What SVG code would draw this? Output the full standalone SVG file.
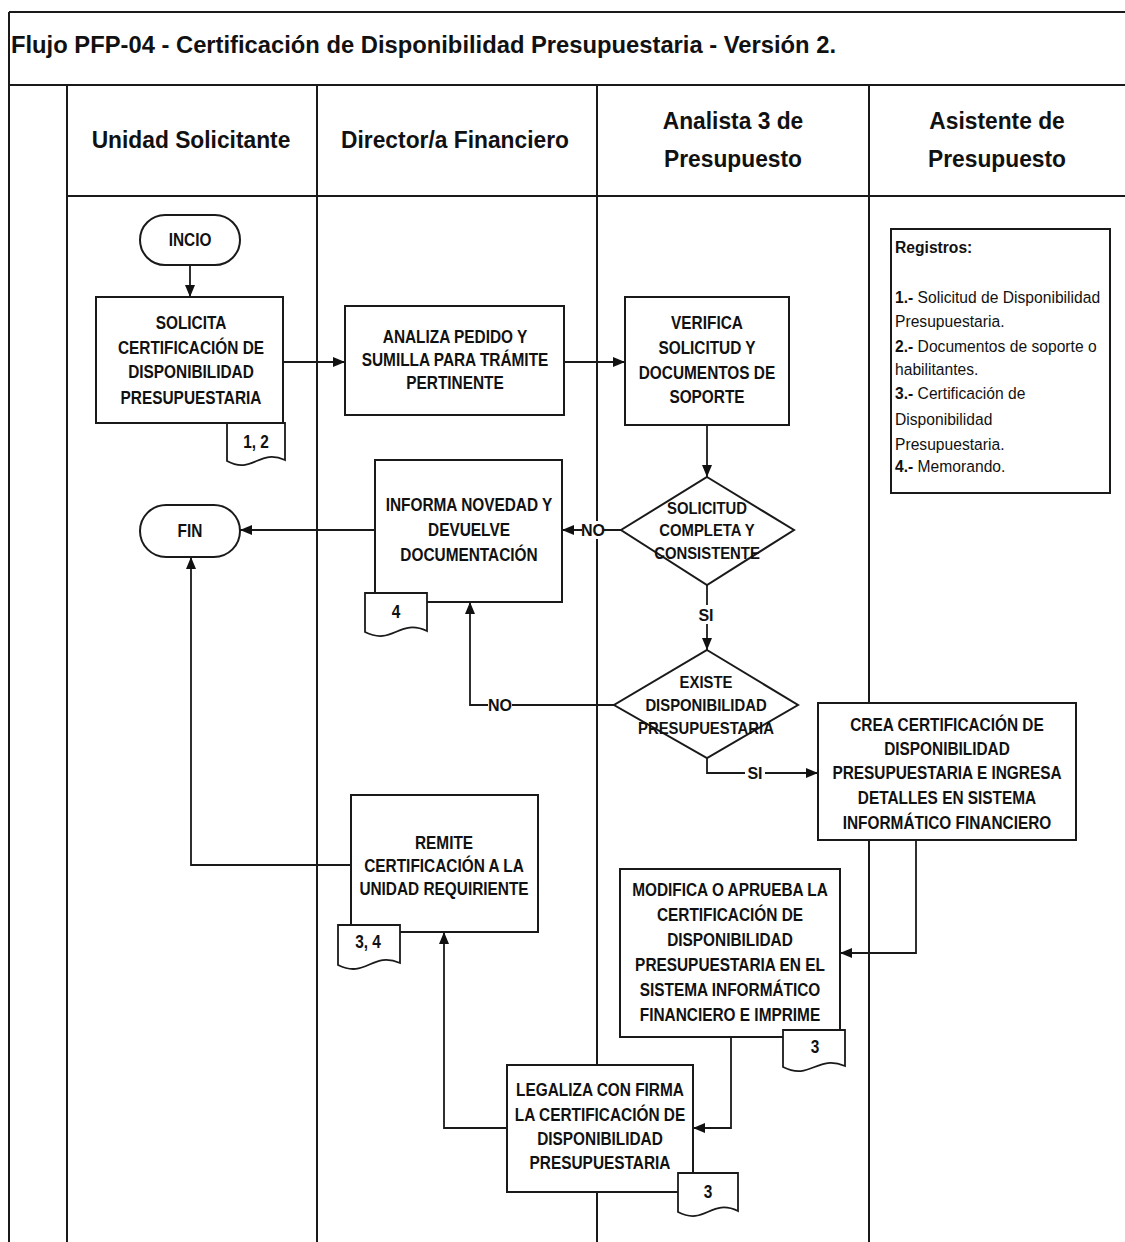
<svg xmlns="http://www.w3.org/2000/svg" width="1125" height="1242" viewBox="0 0 1125 1242">
<style>
.frame{stroke:#1a1a1a;stroke-width:2;fill:none}
.box{fill:#fff;stroke:#1a1a1a;stroke-width:2}
.doc{fill:#fff;stroke:#1a1a1a;stroke-width:1.8}
.con{fill:none;stroke:#1a1a1a;stroke-width:1.8}
.t{font-family:"Liberation Sans",Arial,sans-serif;font-weight:bold;font-size:17.5px;fill:#111;text-anchor:middle}
.d{font-family:"Liberation Sans",Arial,sans-serif;font-weight:bold;font-size:16.5px;fill:#111;text-anchor:middle}
.h{font-family:"Liberation Sans",Arial,sans-serif;font-weight:bold;font-size:24px;fill:#111;text-anchor:middle}
.r{font-family:"Liberation Sans",Arial,sans-serif;font-size:17px;fill:#111}
.lbl{font-family:"Liberation Sans",Arial,sans-serif;font-weight:bold;font-size:16px;fill:#111;text-anchor:middle}
</style>
<defs>
<marker id="arr" viewBox="0 0 12 10" refX="12" refY="5" markerWidth="12" markerHeight="10" markerUnits="userSpaceOnUse" orient="auto">
<path d="M0,0 L12,5 L0,10 Z" fill="#111"/>
</marker>
</defs>
<rect width="1125" height="1242" fill="#fff"/>

<g id="frame">
<line class="frame" x1="9" y1="12" x2="1125" y2="12"/>
<line class="frame" x1="9" y1="85" x2="1125" y2="85"/>
<line class="frame" x1="67" y1="196" x2="1125" y2="196"/>
<line class="frame" x1="9" y1="12" x2="9" y2="1242"/>
<line class="frame" x1="67" y1="85" x2="67" y2="1242"/>
<line class="frame" x1="317" y1="85" x2="317" y2="1242"/>
<line class="frame" x1="597" y1="85" x2="597" y2="1242"/>
<line class="frame" x1="869" y1="85" x2="869" y2="1242"/>
<text x="11" y="53" textLength="825" lengthAdjust="spacingAndGlyphs" font-family="Liberation Sans, Arial, sans-serif" font-weight="bold" font-size="23" fill="#111">Flujo PFP-04 - Certificación de Disponibilidad Presupuestaria - Versión 2.</text>
<text class="h" transform="translate(191,0) scale(0.95,1)" x="0" y="148">Unidad Solicitante</text>
<text class="h" transform="translate(455,0) scale(0.95,1)" x="0" y="148">Director/a Financiero</text>
<text class="h" transform="translate(733,0) scale(0.95,1)"><tspan x="0" y="129">Analista 3 de</tspan><tspan x="0" y="167">Presupuesto</tspan></text>
<text class="h" transform="translate(997,0) scale(0.95,1)"><tspan x="0" y="129">Asistente de</tspan><tspan x="0" y="167">Presupuesto</tspan></text>
</g>

<g id="connectors">
<path class="con" d="M190,265 V297" marker-end="url(#arr)"/>
<path class="con" d="M283,362 H345" marker-end="url(#arr)"/>
<path class="con" d="M564,362 H625" marker-end="url(#arr)"/>
<path class="con" d="M707,425 V477" marker-end="url(#arr)"/>
<path class="con" d="M621,530 H562" marker-end="url(#arr)"/>
<path class="con" d="M375,530 H240" marker-end="url(#arr)"/>
<path class="con" d="M707,585 V650" marker-end="url(#arr)"/>
<path class="con" d="M614,705 H470 V602" marker-end="url(#arr)"/>
<path class="con" d="M707,758 V773 H818" marker-end="url(#arr)"/>
<path class="con" d="M916,840 V953 H840" marker-end="url(#arr)"/>
<path class="con" d="M731,1037 V1128 H693" marker-end="url(#arr)"/>
<path class="con" d="M507,1128 H444 V932" marker-end="url(#arr)"/>
<path class="con" d="M351,865 H191 V557" marker-end="url(#arr)"/>
<rect x="582" y="521" width="22" height="18" fill="#fff"/>
<text class="lbl" x="593" y="536">NO</text>
<rect x="696" y="605" width="20" height="19" fill="#fff"/>
<text class="lbl" x="706" y="621">SI</text>
<rect x="488" y="696" width="24" height="18" fill="#fff"/>
<text class="lbl" x="500" y="711">NO</text>
<rect x="745" y="764" width="20" height="18" fill="#fff"/>
<text class="lbl" x="755" y="779">SI</text>
</g>

<g id="n-inicio">
<rect class="box" x="140" y="215" width="100" height="50" rx="25"/>
<text class="t" transform="translate(190,0) scale(0.88,1)" x="0" y="246">INCIO</text>
</g>

<g id="n-solicita">
<rect class="box" x="96" y="297" width="187" height="126"/>
<text class="t" transform="translate(191,0) scale(0.88,1)"><tspan x="0" y="329">SOLICITA</tspan><tspan x="0" y="354">CERTIFICACIÓN DE</tspan><tspan x="0" y="378">DISPONIBILIDAD</tspan><tspan x="0" y="404">PRESUPUESTARIA</tspan></text>
</g>
<g id="d-12">
<path class="doc" d="M227,423 H285 V460 C259,448 253,475 227,461 Z"/>
<text class="t" transform="translate(256,0) scale(0.88,1)" x="0" y="448">1, 2</text>
</g>

<g id="n-analiza">
<rect class="box" x="345" y="306" width="219" height="109"/>
<text class="t" transform="translate(455,0) scale(0.88,1)"><tspan x="0" y="343">ANALIZA PEDIDO Y</tspan><tspan x="0" y="366">SUMILLA PARA TRÁMITE</tspan><tspan x="0" y="389">PERTINENTE</tspan></text>
</g>

<g id="n-verifica">
<rect class="box" x="625" y="297" width="164" height="128"/>
<text class="t" transform="translate(707,0) scale(0.88,1)"><tspan x="0" y="329">VERIFICA</tspan><tspan x="0" y="354">SOLICITUD Y</tspan><tspan x="0" y="379">DOCUMENTOS DE</tspan><tspan x="0" y="403">SOPORTE</tspan></text>
</g>

<g id="n-registros">
<rect class="box" x="891" y="229" width="219" height="264"/>
<text class="r" transform="translate(895,0) scale(0.92,1)">
<tspan x="0" y="253" font-weight="bold">Registros:</tspan>
<tspan x="0" y="303"><tspan font-weight="bold">1.-</tspan> Solicitud de Disponibilidad</tspan>
<tspan x="0" y="327">Presupuestaria.</tspan>
<tspan x="0" y="352"><tspan font-weight="bold">2.-</tspan> Documentos de soporte o</tspan>
<tspan x="0" y="375">habilitantes.</tspan>
<tspan x="0" y="399"><tspan font-weight="bold">3.-</tspan> Certificación de</tspan>
<tspan x="0" y="425">Disponibilidad</tspan>
<tspan x="0" y="450">Presupuestaria.</tspan>
<tspan x="0" y="472"><tspan font-weight="bold">4.-</tspan> Memorando.</tspan>
</text>
</g>

<g id="n-dec1">
<polygon class="box" points="707,477 794,530 707,585 621,530"/>
<text class="d" transform="translate(707,0) scale(0.9,1)"><tspan x="0" y="514">SOLICITUD</tspan><tspan x="0" y="536">COMPLETA Y</tspan><tspan x="0" y="559">CONSISTENTE</tspan></text>
</g>

<g id="n-fin">
<rect class="box" x="140" y="505" width="100" height="52" rx="26"/>
<text class="t" transform="translate(190,0) scale(0.88,1)" x="0" y="537">FIN</text>
</g>

<g id="n-informa">
<rect class="box" x="375" y="460" width="187" height="142"/>
<text class="t" transform="translate(469,0) scale(0.88,1)"><tspan x="0" y="511">INFORMA NOVEDAD Y</tspan><tspan x="0" y="536">DEVUELVE</tspan><tspan x="0" y="561">DOCUMENTACIÓN</tspan></text>
</g>
<g id="d-4">
<path class="doc" d="M365,593 H427 V631 C399,618 393,646 365,632 Z"/>
<text class="t" transform="translate(396,0) scale(0.88,1)" x="0" y="618">4</text>
</g>

<g id="n-dec2">
<polygon class="box" points="707,650 798,705 707,758 614,705"/>
<text class="d" transform="translate(706,0) scale(0.9,1)"><tspan x="0" y="688">EXISTE</tspan><tspan x="0" y="711">DISPONIBILIDAD</tspan><tspan x="0" y="734">PRESUPUESTARIA</tspan></text>
</g>

<g id="n-crea">
<rect class="box" x="818" y="703" width="258" height="137"/>
<text class="t" transform="translate(947,0) scale(0.88,1)"><tspan x="0" y="731">CREA CERTIFICACIÓN DE</tspan><tspan x="0" y="755">DISPONIBILIDAD</tspan><tspan x="0" y="779">PRESUPUESTARIA E INGRESA</tspan><tspan x="0" y="804">DETALLES EN SISTEMA</tspan><tspan x="0" y="829">INFORMÁTICO FINANCIERO</tspan></text>
</g>

<g id="n-remite">
<rect class="box" x="351" y="795" width="187" height="137"/>
<text class="t" transform="translate(444,0) scale(0.88,1)"><tspan x="0" y="849">REMITE</tspan><tspan x="0" y="872">CERTIFICACIÓN A LA</tspan><tspan x="0" y="895">UNIDAD REQUIRIENTE</tspan></text>
</g>
<g id="d-34">
<path class="doc" d="M338,925 H400 V963 C372,951 366,979 338,965 Z"/>
<text class="t" transform="translate(368,0) scale(0.88,1)" x="0" y="948">3, 4</text>
</g>

<g id="n-modifica">
<rect class="box" x="620" y="869" width="220" height="168"/>
<text class="t" transform="translate(730,0) scale(0.88,1)"><tspan x="0" y="896">MODIFICA O APRUEBA LA</tspan><tspan x="0" y="921">CERTIFICACIÓN DE</tspan><tspan x="0" y="946">DISPONIBILIDAD</tspan><tspan x="0" y="971">PRESUPUESTARIA EN EL</tspan><tspan x="0" y="996">SISTEMA INFORMÁTICO</tspan><tspan x="0" y="1021">FINANCIERO E IMPRIME</tspan></text>
</g>
<g id="d-3a">
<path class="doc" d="M783,1030 H845 V1066 C817,1054 811,1081 783,1067 Z"/>
<text class="t" transform="translate(815,0) scale(0.88,1)" x="0" y="1053">3</text>
</g>

<g id="n-legaliza">
<rect class="box" x="507" y="1065" width="186" height="127"/>
<text class="t" transform="translate(600,0) scale(0.88,1)"><tspan x="0" y="1096">LEGALIZA CON FIRMA</tspan><tspan x="0" y="1121">LA CERTIFICACIÓN DE</tspan><tspan x="0" y="1145">DISPONIBILIDAD</tspan><tspan x="0" y="1169">PRESUPUESTARIA</tspan></text>
</g>
<g id="d-3b">
<path class="doc" d="M678,1173 H738 V1211 C711,1198 705,1226 678,1212 Z"/>
<text class="t" transform="translate(708,0) scale(0.88,1)" x="0" y="1198">3</text>
</g>
</svg>
